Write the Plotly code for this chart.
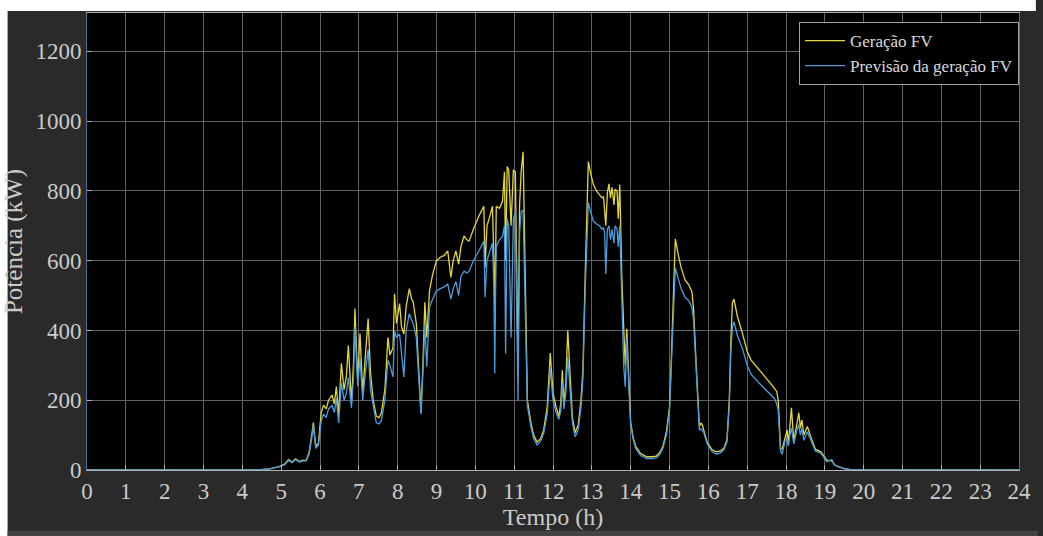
import plotly.graph_objects as go

# Hora do dia (h)
tempo_h = [
    0.0, 4.4, 4.7, 4.95, 5.1, 5.19, 5.28, 5.37, 5.47, 5.55, 5.64, 5.72, 5.8, 5.83, 5.89, 5.96,
    6.03, 6.09, 6.16, 6.22, 6.31, 6.37, 6.42, 6.48, 6.55, 6.62, 6.68, 6.73, 6.81, 6.86, 6.9, 6.97,
    7.03, 7.1, 7.17, 7.24, 7.3, 7.37, 7.45, 7.52, 7.58, 7.67, 7.75, 7.8, 7.88, 7.92, 7.97,
    8.05, 8.1, 8.16, 8.22, 8.3, 8.36, 8.4, 8.48, 8.55, 8.6, 8.65, 8.7, 8.75, 8.82, 8.9,
    9.0, 9.1, 9.2, 9.29, 9.33, 9.37, 9.43, 9.5, 9.57, 9.63, 9.71, 9.78, 9.84, 9.95,
    10.1, 10.22, 10.25, 10.3, 10.38, 10.44, 10.48, 10.5, 10.52, 10.54, 10.62, 10.7, 10.75, 10.78,
    10.82, 10.86, 10.92, 10.98, 11.03, 11.08, 11.1, 11.14, 11.18, 11.23, 11.27, 11.3, 11.34,
    11.43, 11.5, 11.59, 11.68, 11.76, 11.85, 11.93, 11.97,
    12.0, 12.08, 12.15, 12.2, 12.24, 12.28, 12.33, 12.38, 12.45, 12.5, 12.57, 12.65, 12.72, 12.77,
    12.83, 12.87, 12.91, 12.97,
    13.04, 13.12, 13.2, 13.26, 13.3, 13.33, 13.36, 13.4, 13.44, 13.48, 13.52, 13.57, 13.6, 13.65,
    13.68, 13.72, 13.77, 13.82, 13.86, 13.9, 13.94,
    14.0, 14.07, 14.13, 14.25, 14.41, 14.55, 14.66, 14.75, 14.83, 14.92,
    15.0, 15.04, 15.08, 15.12, 15.15, 15.22, 15.3, 15.4, 15.5, 15.58, 15.62, 15.69, 15.74, 15.77,
    15.81, 15.85, 15.88, 15.97,
    16.1, 16.2, 16.3, 16.4, 16.48, 16.54, 16.58, 16.62, 16.66, 16.75, 16.88,
    17.0, 17.1, 17.3, 17.5, 17.7, 17.76, 17.8, 17.83, 17.86, 17.9, 17.98,
    18.03, 18.06, 18.1, 18.14, 18.2, 18.27, 18.33, 18.37, 18.41, 18.46, 18.55, 18.63, 18.7, 18.76, 18.9,
    19.05, 19.18, 19.25, 19.35, 19.5, 19.7, 24.0,
]

# Geração FV medida (kW)
geracao_fv = [
    0, 0, 3, 10, 18, 30, 22, 32, 24, 28, 27, 50, 110, 136, 68, 78,
    164, 186, 175, 200, 215, 190, 239, 160, 306, 230, 270, 357, 193, 300, 463, 258,
    391, 220, 330, 434, 280, 200, 154, 150, 164, 230, 380, 330, 350, 505, 420,
    477, 410, 390, 470, 520, 490, 481, 420, 250, 164, 300, 481, 380, 514, 560,
    600, 610, 615, 628, 590, 552, 600, 628, 590, 640, 671, 660, 656, 690,
    730, 756, 580, 700, 730, 756, 600, 420, 600, 756, 750, 770, 855, 600,
    870, 860, 700, 860, 855, 500, 300, 760, 855, 912, 600, 372, 200,
    136, 100, 80, 90, 115, 180, 335, 260,
    220, 180, 154, 190, 286, 190, 250, 400, 250, 150, 107, 130, 200, 286,
    562, 760, 884, 850,
    818, 800, 790, 780, 784, 740, 700, 794, 820, 780, 810, 760, 805, 800,
    720, 818, 562, 410, 300, 405, 295,
    136, 90, 68, 48, 38, 38, 40, 50, 68, 110,
    180, 296, 429, 600, 662, 620, 580, 545, 530, 510, 460, 296, 170, 125,
    135, 128, 115, 79,
    58, 52, 54, 62, 87, 200, 372, 480, 490, 440, 391,
    340, 315, 290, 262, 235, 225, 200, 120, 59, 60, 93,
    115, 73, 120, 178, 83, 130, 164, 120, 144, 100, 125, 97, 75, 59, 52,
    28, 26, 15, 10, 4, 0, 0,
]

# Previsão da geração FV (kW)
previsao_fv = [
    0, 0, 3, 9, 16, 28, 21, 30, 23, 26, 26, 46, 100, 128, 62, 72,
    140, 160, 150, 175, 185, 165, 205, 135, 250, 200, 220, 265, 178, 260, 410, 240,
    320, 200, 280, 345, 230, 180, 135, 132, 142, 200, 315, 300, 267, 398, 380,
    390, 330, 267, 400, 448, 430, 420, 380, 230, 160, 280, 415, 296, 467, 490,
    514, 520, 525, 533, 510, 490, 520, 540, 500, 555, 570, 565, 570, 600,
    630, 656, 495, 600, 630, 650, 520, 277, 500, 640, 660, 670, 700, 334,
    720, 700, 380, 720, 740, 250, 200, 680, 740, 745, 500, 330, 185,
    125, 90, 72, 82, 105, 160, 290, 230,
    200, 165, 145, 170, 250, 175, 220, 325, 220, 135, 95, 115, 180, 260,
    520, 680, 766, 740,
    713, 705, 700, 690, 695, 680, 562, 690, 700, 660, 690, 650, 700, 690,
    640, 700, 500, 300, 239, 380, 270,
    130, 85, 62, 42, 33, 33, 35, 45, 62, 100,
    170, 280, 400, 540, 580, 550, 520, 495, 485, 465, 430, 280, 160, 115,
    118, 112, 108, 75,
    52, 46, 48, 58, 80, 185, 340, 410, 425, 385, 348,
    300, 275, 250, 228, 205, 190, 172, 110, 55, 45, 85,
    90, 68, 100, 120, 75, 110, 130, 100, 120, 85, 110, 88, 68, 54, 48,
    24, 30, 14, 9, 4, 0, 0,
]

horas_ticks = list(range(0, 25))
potencia_ticks = [0, 200, 400, 600, 800, 1000, 1200]

COR_GERACAO = "#E3D63A"
COR_PREVISAO = "#4B9CDB"
COR_TEXTO = "#CACACA"
COR_GRADE = "#626262"
FONTE = "Liberation Serif, Times New Roman, serif"

fig = go.Figure()
fig.add_trace(go.Scatter(
    x=tempo_h, y=geracao_fv, mode="lines", name="Geração FV",
    line=dict(color=COR_GERACAO, width=1.3),
))
fig.add_trace(go.Scatter(
    x=tempo_h, y=previsao_fv, mode="lines", name="Previsão da geração FV",
    line=dict(color=COR_PREVISAO, width=1.3),
))

# Figure frame: white strips at top/left, dark panel, lighter bottom strip
L, R, T, B = 87, 17, 12, 66
W, H = 1043, 536
pw, ph = W - L - R, H - T - B

def px_x(x):
    return (x - L) / pw

def px_y(y):
    return (H - B - y) / ph

shapes = [
    dict(type="rect", xref="paper", yref="paper", x0=px_x(0), x1=px_x(W), y0=px_y(10), y1=px_y(-2),
         fillcolor="white", line_width=0, layer="below"),
    dict(type="rect", xref="paper", yref="paper", x0=px_x(-2), x1=px_x(7), y0=px_y(H + 2), y1=px_y(-2),
         fillcolor="white", line_width=0, layer="below"),
    dict(type="rect", xref="paper", yref="paper", x0=px_x(7), x1=px_x(W + 2), y0=px_y(H + 2), y1=px_y(531),
         fillcolor="#424242", line_width=0, layer="below"),
]

fig.update_layout(
    width=W, height=H,
    margin=dict(l=L, r=R, t=T, b=B),
    paper_bgcolor="#2A2A2A",
    plot_bgcolor="black",
    font=dict(family=FONTE, color=COR_TEXTO, size=23),
    shapes=shapes,
    showlegend=True,
    legend=dict(
        x=1, xanchor="right", y=px_y(21), yanchor="top",
        bgcolor="black", bordercolor="#A0A0A0", borderwidth=1,
        font=dict(family=FONTE, size=17, color="#DADADA"),
        tracegroupgap=0, itemwidth=40,
    ),
    xaxis=dict(
        range=[0, 24], tickmode="array", tickvals=horas_ticks,
        ticktext=[str(h) for h in horas_ticks],
        showgrid=True, gridcolor=COR_GRADE, gridwidth=1, zeroline=False,
        showline=True, linecolor="#B0B0B0", linewidth=1, mirror=True,
        ticks="inside", ticklen=5, tickcolor="#B0B0B0",
        tickfont=dict(family=FONTE, size=23, color=COR_TEXTO),
        title=dict(text="Tempo (h)", font=dict(family=FONTE, size=24, color=COR_TEXTO), standoff=2),
    ),
    yaxis=dict(
        range=[0, 1310], tickmode="array", tickvals=potencia_ticks,
        ticktext=[str(v) for v in potencia_ticks],
        showgrid=True, gridcolor=COR_GRADE, gridwidth=1, zeroline=False,
        showline=True, linecolor="#4D7095", linewidth=1, mirror=True,
        ticks="inside", ticklen=5, tickcolor="#B0B0B0",
        tickfont=dict(family=FONTE, size=23, color=COR_TEXTO),
        title=dict(text="Potência (kW)", font=dict(family=FONTE, size=25, color=COR_TEXTO), standoff=6),
    ),
)

fig.write_html("out.html")
